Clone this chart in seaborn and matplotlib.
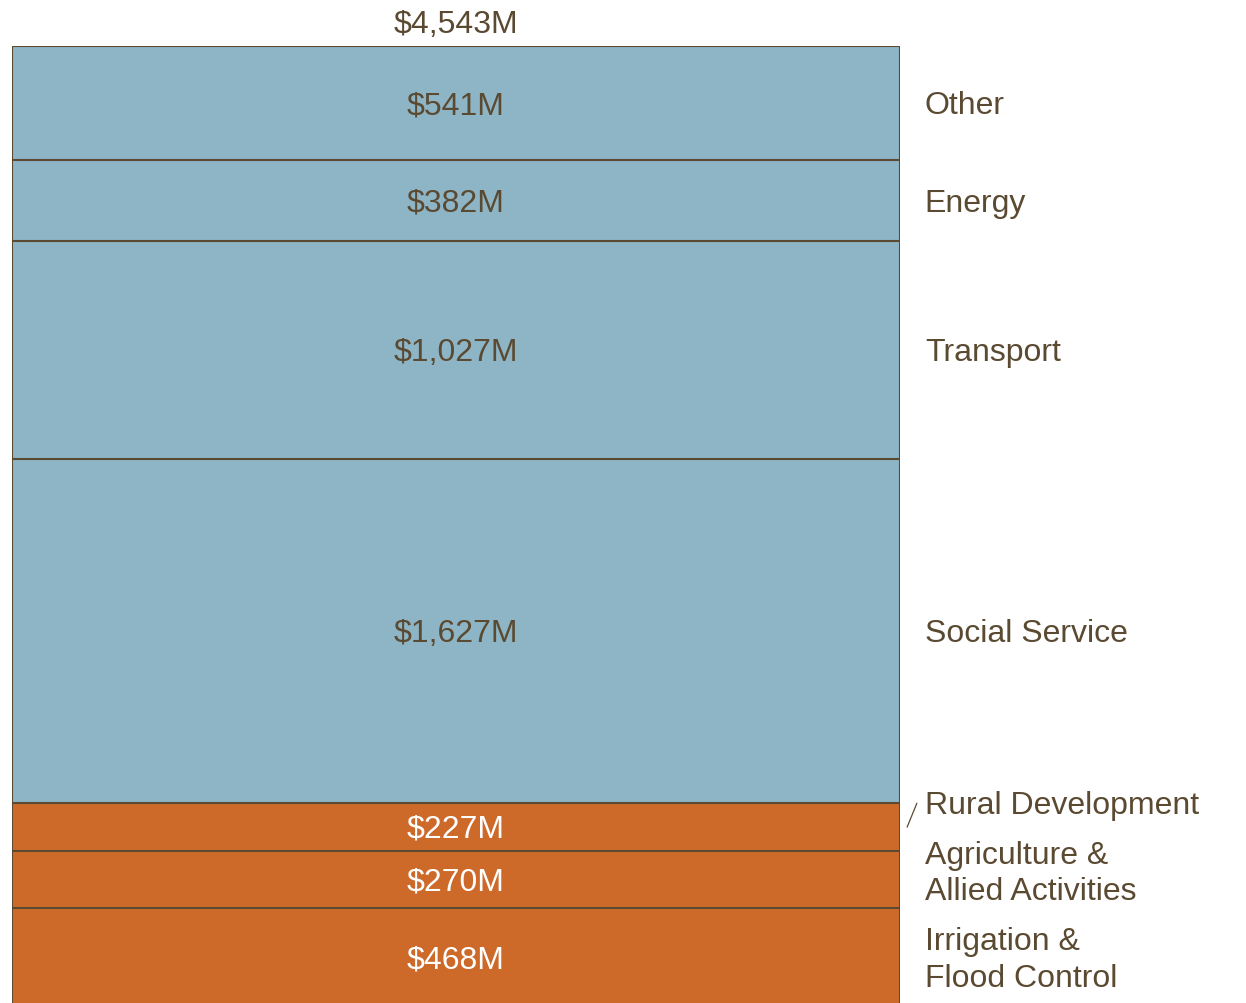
import numpy as np
import pandas as pd
import seaborn as sns
import matplotlib.pyplot as plt

# Data, bottom to top
sectors = ["Irrigation &\nFlood Control", "Agriculture &\nAllied Activities", "Rural Development",
           "Social Service", "Transport", "Energy", "Other"]
values = [468, 270, 227, 1627, 1027, 382, 541]
groups = ["rural", "rural", "rural", "other", "other", "other", "other"]
total_label = "$4,543M"

fill = {"rural": "#CD6A2A", "other": "#8DB5C6"}
value_color = {"rural": "white", "other": "#5B4A32"}
TXT = "#5B4A32"

sns.set_theme(style="white")
plt.rcParams['font.family'] = ['Liberation Sans', 'DejaVu Sans']

fig = plt.figure(figsize=(12.46, 10.04), dpi=100)
ax = fig.add_axes([12 / 1246, -4 / 1004, 888 / 1246, 961 / 1004])

cum = np.cumsum(values)
df = pd.DataFrame({"sector": sectors, "value": values, "group": groups, "cum": cum})

# Layered cumulative bars: draw the tallest first so lower segments sit on top
for i in range(len(df) - 1, -1, -1):
    row = df.iloc[i]
    sns.barplot(x=["all"], y=[row["cum"]], color=fill[row["group"]], saturation=1,
                width=1, edgecolor=TXT, linewidth=1.5, ax=ax)

total = cum[-1]
ax.set_xlim(-0.5, 0.5)
ax.set_ylim(0, total)
ax.axis("off")

px = 0.2115  # pixels per unit, used for small text offsets
dy = -2 / px

# value labels inside segments
starts = cum - np.array(values)
mids = starts + np.array(values) / 2
for i, row in df.iterrows():
    ax.text(0, mids[i] + dy, f"${row['value']:,}M", ha="center", va="center",
            fontsize=23, color=value_color[row["group"]])

ax.text(0, total + 24 / px + dy, total_label, ha="center", va="center", fontsize=23,
        color=TXT, clip_on=False)

# sector names on the right
nudge = {"Rural Development": 965 - mids[2], "Agriculture &\nAllied Activities": 40}
for i, row in df.iterrows():
    y = mids[i] + nudge.get(row["sector"], 0) + dy
    ax.text(0.528, y, row["sector"], ha="left", va="center", fontsize=23,
            color=TXT, linespacing=1.3, clip_on=False)

# small leader line for Rural Development
ax.plot([0.508, 0.519], [850, 963], color=TXT, lw=0.9, clip_on=False)

fig.savefig("out.png", dpi=100)
